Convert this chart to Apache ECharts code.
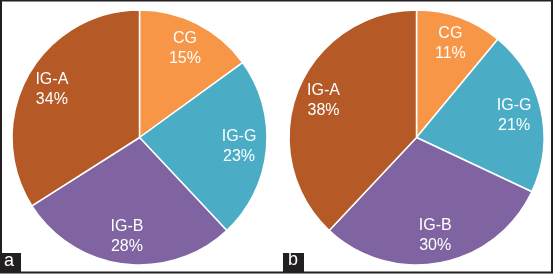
<!DOCTYPE html>
<html>
<head>
<meta charset="utf-8">
<script src="https://cdn.jsdelivr.net/npm/echarts@6/dist/echarts.min.js"></script>
<style>
html, body { margin: 0; padding: 0; background: #fff; }
#main { width: 553px; height: 274px; }
</style>
</head>
<body>
<div id="main"></div>
<script>
var categories = ['CG', 'IG-G', 'IG-B', 'IG-A'];
var colors = ['#F79646', '#4BACC6', '#8064A2', '#B55A27'];
var valuesA = [15, 23, 28, 34];
var valuesB = [11, 21, 30, 38];
var panels = ['a', 'b'];

function toData(vals) {
    return categories.map(function (c, i) {
        return { name: c, value: vals[i], itemStyle: { color: colors[i] } };
    });
}

var R = 127.5;
var centers = [[139.5, 137.5], [416.5, 137.5]];

function pieSeries(vals, center) {
    return [
        {
            type: 'pie',
            center: center,
            radius: [0, R],
            startAngle: 90,
            clockwise: true,
            silent: true,
            animation: false,
            label: { show: false },
            labelLine: { show: false },
            itemStyle: { borderColor: '#fff', borderWidth: 1.5 },
            data: toData(vals)
        },
        {
            // transparent ring, only carries the labels
            type: 'pie',
            center: center,
            radius: [2 * 97 - R, R],
            startAngle: 90,
            clockwise: true,
            silent: true,
            animation: false,
            itemStyle: { color: 'rgba(0,0,0,0)', borderWidth: 0 },
            label: {
                show: true,
                position: 'inside',
                formatter: '{b}\n{c}%',
                color: '#fff',
                fontFamily: 'Liberation Sans, Arial, sans-serif',
                fontSize: 16,
                lineHeight: 20
            },
            labelLine: { show: false },
            data: toData(vals).map(function (d) {
                return { name: d.name, value: d.value, itemStyle: { color: 'rgba(0,0,0,0)' } };
            })
        }
    ];
}

var chart = echarts.init(document.getElementById('main'));
var option = {
    backgroundColor: '#fff',
    graphic: [
        {
            type: 'rect',
            shape: { x: 1, y: 0.5, width: 551, height: 272 },
            style: { fill: 'none', stroke: '#231F20', lineWidth: 2 },
            z: 10
        },
        {
            type: 'rect',
            shape: { x: 0, y: 253, width: 21, height: 20 },
            style: { fill: '#231F20' },
            z: 11
        },
        {
            type: 'text',
            left: 4, top: 252,
            style: { text: panels[0], fill: '#fff', font: '18px Liberation Sans, Arial, sans-serif' },
            z: 12
        },
        {
            type: 'rect',
            shape: { x: 283, y: 253, width: 21, height: 20 },
            style: { fill: '#231F20' },
            z: 11
        },
        {
            type: 'text',
            left: 288, top: 251,
            style: { text: panels[1], fill: '#fff', font: '18px Liberation Sans, Arial, sans-serif' },
            z: 12
        }
    ],
    series: pieSeries(valuesA, centers[0]).concat(pieSeries(valuesB, centers[1]))
};
chart.setOption(option);
</script>
</body>
</html>
